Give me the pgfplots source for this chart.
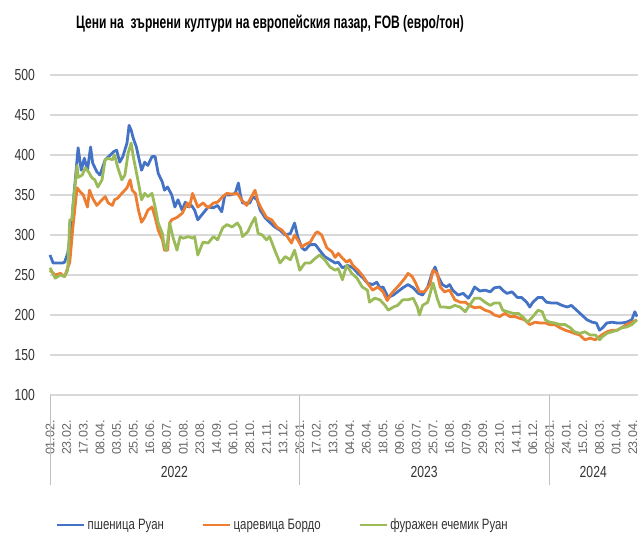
\documentclass[border=0pt]{standalone}
\usepackage{fontspec}
\setmainfont[FakeStretch=0.76]{Liberation Sans}
\newfontfamily\tickfont{Liberation Sans}
\newfontfamily\titlefont[FakeStretch=0.67]{Liberation Sans}
\usepackage{pgfplots}
\pgfplotsset{compat=1.18}
\usepackage{pgfplotstable}
\definecolor{cblue}{HTML}{4472C4}
\definecolor{corange}{HTML}{ED7D31}
\definecolor{cgreen}{HTML}{9BBB59}
\definecolor{cgrid}{HTML}{D9D9D9}

\pgfplotstableread{
i v
0 275
3 265
12 265
14 266
17 277
21 315
22 335
27 409
30 381
33 396
36 381
39 410
41 390
45 379
48 375
53 394
58 400
61 404
64 406
67 391
70 398
74 415
76 437
78 431
80 421
83 410
85 398
88 381
91 391
94 387
98 398
101 398
104 377
108 366
110 356
113 360
117 350
120 335
123 344
127 331
130 341
133 335
136 337
139 331
142 319
147 327
152 335
157 334
161 337
165 329
168 350
173 350
178 352
181 365
183 350
185 340
189 340
192 340
195 348
199 344
202 331
207 321
211 316
216 310
221 306
226 300
231 302
235 315
238 298
242 284
245 281
250 288
255 288
259 281
264 273
269 269
274 265
277 266
281 259
286 262
291 259
296 252
301 246
305 240
310 238
314 241
317 234
320 235
325 222
330 225
334 229
339 234
344 238
349 234
354 227
358 225
363 235
367 252
370 260
373 248
377 238
381 235
384 238
387 231
392 225
397 227
402 221
405 227
408 235
413 230
418 231
423 229
427 234
432 235
435 231
439 227
444 229
449 222
453 222
458 216
461 210
464 216
469 222
473 222
477 216
482 215
487 215
492 212
497 210
501 212
506 206
511 200
516 194
521 191
525 190
528 181
531 184
535 190
540 191
545 190
549 190
554 191
559 194
562 204
564 198
}\wheat

\pgfplotstableread{
i v
0 256
5 250
10 252
14 248
19 266
22 310
26 359
29 354
32 350
36 335
38 356
41 346
45 337
50 344
53 348
56 340
60 337
62 344
65 346
69 352
74 359
77 369
79 356
82 352
85 331
88 316
91 322
94 331
98 335
101 322
104 306
108 294
110 281
113 281
115 315
117 319
122 322
127 327
132 340
134 335
137 352
142 335
147 340
152 334
157 340
161 341
166 348
170 352
175 351
180 352
184 344
189 337
192 344
197 356
200 341
204 331
208 322
213 319
218 310
223 306
228 298
232 290
235 300
238 294
242 285
245 288
250 291
255 302
257 304
261 300
266 284
271 279
274 272
277 277
281 271
285 266
288 269
291 262
296 256
301 248
305 240
310 231
315 235
320 229
324 218
327 225
331 231
336 238
341 246
344 252
348 248
351 241
355 229
360 229
365 238
368 256
372 252
375 235
379 229
384 231
389 219
394 216
399 216
403 212
408 209
413 210
418 206
423 204
427 200
432 198
437 202
442 198
447 198
451 196
456 194
461 188
466 191
471 190
476 190
480 188
485 188
490 184
495 181
500 179
504 177
509 175
514 169
519 171
524 169
526 171
530 175
535 179
540 181
545 181
549 184
554 188
559 191
564 194
}\maize

\pgfplotstableread{
i v
0 259
5 246
10 250
14 248
17 256
19 319
21 319
22 335
26 387
27 372
31 375
34 384
37 379
40 372
43 369
46 360
50 369
53 394
56 396
60 394
62 400
65 385
69 369
72 375
75 402
78 415
80 398
82 385
85 365
88 344
91 352
94 348
98 352
101 335
104 315
108 302
110 285
112 281
115 315
118 298
122 281
125 298
128 296
133 298
137 296
139 298
142 275
147 291
152 290
157 298
161 294
166 309
170 313
175 310
180 315
183 309
185 298
190 304
194 315
197 322
200 302
204 300
208 294
211 298
216 281
221 265
226 273
231 269
235 281
240 256
245 265
250 265
255 271
259 275
264 269
269 260
274 256
277 258
281 244
285 262
290 252
295 246
300 235
305 231
307 216
312 221
317 219
322 212
325 206
330 210
334 212
339 219
344 219
349 221
353 210
355 200
358 212
363 216
368 240
372 221
375 210
379 210
384 209
389 212
394 210
399 204
403 212
408 221
413 221
418 216
423 212
427 215
432 215
435 206
440 204
445 202
450 202
454 198
459 191
464 198
469 206
473 204
476 194
480 191
485 190
490 188
495 188
500 184
504 179
509 177
514 179
519 175
524 175
528 169
531 173
535 177
540 179
545 181
549 184
554 185
559 188
564 194
}\barley

\begin{document}
\begin{tikzpicture}
\begin{axis}[
  at={(50pt,141pt)}, anchor=south west,
  scale only axis, width=588pt, height=320pt,
  xmin=0, xmax=565, ymin=100, ymax=500,
  ytick={100,150,...,500},
  ymajorgrids, grid style={cgrid, line width=1.1pt},
  axis line style={draw=none},
  major tick length=0pt,
  clip=false,
  xtick={0,16,...,560},
  xticklabels={01.02.,23.02.,17.03.,08.04.,03.05.,25.05.,16.06.,08.07.,01.08.,23.08.,14.09.,06.10.,28.10.,21.11.,13.12.,
               26.01.,17.02.,13.03.,04.04.,26.04.,18.05.,09.06.,03.07.,25.07.,16.08.,07.09.,29.09.,23.10.,14.11.,06.12.,
               02.01.,24.01.,15.02.,08.03.,01.04.,23.04.},
  xticklabel style={font=\tickfont\fontsize{12.5}{13}\selectfont, rotate=90, anchor=east, inner sep=0pt, text=black!60},
  xticklabel shift=25pt,
  yticklabel style={font=\fontsize{16}{17}\selectfont, inner sep=0pt, anchor=east, text=black!80},
  yticklabel shift=15pt,
  /pgf/number format/assume math mode=true,
  legend style={at={(0.396,-0.406)}, anchor=center, draw=none, fill=none,
    legend columns=3, font=\fontsize{15}{16}\selectfont, text=black!80,
    /tikz/every even column/.append style={column sep=36pt}},
  legend image code/.code={\draw[#1, line width=2.8pt] (0pt,0pt) -- (27pt,0pt);},
]
\addplot[cblue, line width=2.8pt, line join=round] table[x=i, y=v] {\wheat};
\addlegendentry{пшеница Руан}
\addplot[corange, line width=2.8pt, line join=round] table[x=i, y=v] {\maize};
\addlegendentry{царевица Бордо}
\addplot[cgreen, line width=2.8pt, line join=round] table[x=i, y=v] {\barley};
\addlegendentry{фуражен ечемик Руан}

\draw[black!25, line width=1pt] (axis cs:0,100) -- ++(0pt,-90pt);
\draw[black!25, line width=1pt] (axis cs:239.5,100) -- ++(0pt,-90pt);
\draw[black!25, line width=1pt] (axis cs:479.5,100) -- ++(0pt,-90pt);
\node[font=\fontsize{16}{17}\selectfont, text=black!80] at (axis cs:119.5,100) [yshift=-77pt] {2022};
\node[font=\fontsize{16}{17}\selectfont, text=black!80] at (axis cs:359.5,100) [yshift=-77pt] {2023};
\node[font=\fontsize{16}{17}\selectfont, text=black!80] at (axis cs:522,100) [yshift=-77pt] {2024};
\end{axis}
\node[font=\titlefont\fontsize{18}{20}\selectfont\bfseries] at (270pt,512pt) {Цени на~ зърнени култури на европейския пазар, FOB (евро/тон)};
\pgfresetboundingbox
\useasboundingbox (0,0) rectangle (638pt,536pt);
\end{tikzpicture}
\end{document}
